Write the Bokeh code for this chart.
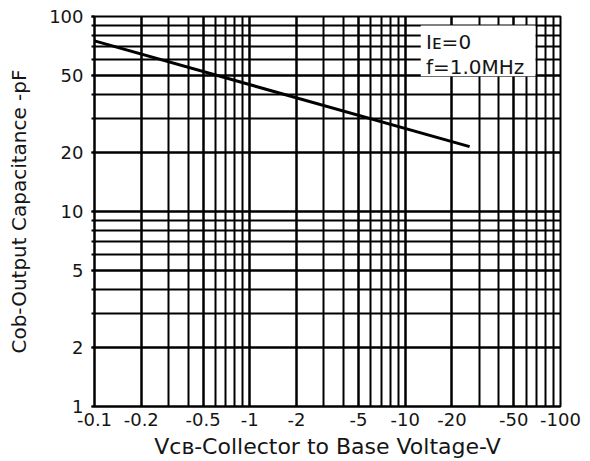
from bokeh.plotting import figure
from bokeh.models import FixedTicker, CustomJSTickFormatter, BoxAnnotation, Label
from bokeh.embed import file_html
from bokeh.resources import INLINE

# ---- data (|VCB| in volts, Cob in pF) ----
vcb = [0.1, 26]
cob = [75, 21.5]

x_ticks = [0.1, 0.2, 0.5, 1, 2, 5, 10, 20, 50, 100]
x_tick_labels = ["-0.1", "-0.2", "-0.5", "-1", "-2", "-5", "-10", "-20", "-50", "-100"]
y_ticks = [1, 2, 5, 10, 20, 50, 100]
y_tick_labels = ["1", "2", "5", "10", "20", "50", "100"]

x_minor = [round(m * d, 3) for d in (0.1, 1, 10) for m in range(1, 11)]
y_minor = [round(m * d, 3) for d in (1, 10) for m in range(1, 11)]

FONT = "DejaVu Sans"
INK = "#151515"

p = figure(width=590, height=461, x_axis_type="log", y_axis_type="log",
           x_range=(0.1, 100), y_range=(1, 100),
           output_backend="svg", toolbar_location=None,
           min_border_left=94, min_border_right=30,
           min_border_top=16, min_border_bottom=53)
p.background_fill_color = "white"
p.border_fill_color = "white"
p.outline_line_color = "black"
p.outline_line_width = 2

fmt_code = """
const i = tv.findIndex(t => Math.abs(t - tick) < 1e-6 * t);
return i >= 0 ? tl[i] : '';
"""
p.xaxis.ticker = FixedTicker(ticks=x_ticks, minor_ticks=x_minor)
p.yaxis.ticker = FixedTicker(ticks=y_ticks, minor_ticks=y_minor)
p.xaxis.formatter = CustomJSTickFormatter(args=dict(tv=x_ticks, tl=x_tick_labels), code=fmt_code)
p.yaxis.formatter = CustomJSTickFormatter(args=dict(tv=y_ticks, tl=y_tick_labels), code=fmt_code)

for g in (p.xgrid, p.ygrid):
    g.grid_line_color = "black"
    g.grid_line_width = 2
    g.grid_line_alpha = 1
    g.minor_grid_line_color = "black"
    g.minor_grid_line_width = 2

for ax in (p.xaxis, p.yaxis):
    ax.axis_line_color = "black"
    ax.axis_line_width = 2
    ax.major_label_text_font = FONT
    ax.major_label_text_font_size = "18px"
    ax.major_label_text_color = INK
    ax.axis_label_text_font = FONT
    ax.axis_label_text_font_style = "normal"
    ax.axis_label_text_color = INK

p.xaxis.major_tick_out = 0
p.xaxis.major_tick_in = 0
p.xaxis.minor_tick_out = 0
p.xaxis.minor_tick_in = 0
p.xaxis.major_label_standoff = 6
p.xaxis.axis_label = "V\u1d04\u0299-Collector to Base Voltage-V"
p.xaxis.axis_label_text_font_size = "22px"
p.xaxis.axis_label_standoff = 5

p.yaxis.major_tick_out = 3
p.yaxis.major_tick_in = 0
p.yaxis.minor_tick_out = 3
p.yaxis.minor_tick_in = 0
p.yaxis.major_tick_line_width = 2
p.yaxis.minor_tick_line_width = 2
p.yaxis.major_label_standoff = 8
p.yaxis.axis_label = "Cob-Output Capacitance -pF"
p.yaxis.axis_label_text_font_size = "20px"
p.yaxis.axis_label_standoff = 15

p.line(vcb, cob, line_color="black", line_width=3)

# condition box
p.add_layout(BoxAnnotation(left=12.6, right=69, bottom=49.4, top=90,
                           fill_color="white", fill_alpha=1, line_alpha=0))
p.add_layout(Label(x=13.6, y=73.6, text="I\u1d07=0", text_font=FONT,
                   text_font_size="20px", text_color=INK, text_baseline="alphabetic"))
p.add_layout(Label(x=13.6, y=54.9, text="f=1.0MHz", text_font=FONT,
                   text_font_size="20px", text_color=INK, text_baseline="alphabetic"))

open("out.html", "w").write(file_html(p, INLINE))
